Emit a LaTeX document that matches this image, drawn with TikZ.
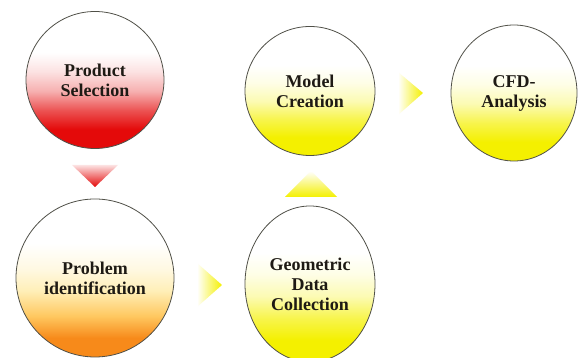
\documentclass[tikz,border=0pt]{standalone}
\usepackage{fontspec}
\setmainfont{Liberation Serif}
\usetikzlibrary{shapes.geometric}
\definecolor{txt}{HTML}{1E1A14}
\definecolor{rim}{HTML}{505048}
\definecolor{myred}{HTML}{E40A0A}
\definecolor{myorange}{HTML}{F78A1A}
\definecolor{midorange}{HTML}{FFC860}
\definecolor{paleorange}{HTML}{FFEFB8}
\definecolor{myyellow}{HTML}{F4F000}
\pgfdeclareverticalshading{redball}{100bp}{color(0bp)=(myred); color(25bp)=(myred); color(32bp)=(myred); color(39bp)=(myred!70!white); color(46bp)=(myred!32!white); color(53bp)=(myred!12!white); color(60bp)=(white); color(100bp)=(white)}
\pgfdeclareverticalshading{orangeball}{100bp}{color(0bp)=(myorange); color(25bp)=(myorange); color(31bp)=(myorange); color(38bp)=(midorange); color(46bp)=(paleorange); color(53bp)=(paleorange!40!white); color(61bp)=(white); color(100bp)=(white)}
\pgfdeclareverticalshading{yellowball}{100bp}{color(0bp)=(myyellow); color(25bp)=(myyellow); color(32bp)=(myyellow); color(39bp)=(myyellow!70!white); color(46bp)=(myyellow!30!white); color(53bp)=(myyellow!10!white); color(60bp)=(white); color(100bp)=(white)}
\tikzset{
  stage/.style={ellipse, draw=rim, line width=0.8pt, inner sep=0pt, align=center,
    font=\fontsize{18}{20}\selectfont\bfseries, text=txt},
  yelstage/.style={stage, shading=yellowball},
  arrowtri/.style={draw=none}
}
\begin{document}
\begin{tikzpicture}[x=1pt,y=1pt]
\useasboundingbox (0,0) rectangle (579,358);
\fill[white] (0,0) rectangle (579,358);
% circles
\node[stage, shading=redball, minimum width=138pt, minimum height=137pt] (prod) at (95,278) {Product\\Selection};
\node[stage, shading=orangeball, minimum width=158pt, minimum height=158pt] (prob) at (95,80) {Problem\\identification};
\node[yelstage, minimum width=130pt, minimum height=156pt] (geo) at (310,74) {Geometric\\Data\\Collection};
\node[yelstage, minimum width=130pt, minimum height=129pt] (model) at (310,267) {Model\\Creation};
\node[yelstage, minimum width=126pt, minimum height=136pt] (cfd) at (514,265) {CFD-\\Analysis};
% arrows (triangles)
\coordinate (a1) at (72,193);
\coordinate (a2) at (118,193);
\coordinate (a3) at (95,171);
\shade[arrowtri, top color=myred!12!white, bottom color=myred] (a1) -- (a2) -- (a3) -- cycle;
\coordinate (b1) at (197,95);
\coordinate (b2) at (197,51);
\coordinate (b3) at (222,73);
\shade[arrowtri, left color=white, right color=myyellow] (b1) -- (b2) -- (b3) -- cycle;
\coordinate (c1) at (285,161);
\coordinate (c2) at (337,161);
\coordinate (c3) at (311,187);
\shade[arrowtri, top color=white, bottom color=myyellow] (c1) -- (c2) -- (c3) -- cycle;
\coordinate (d1) at (398,286);
\coordinate (d2) at (398,243);
\coordinate (d3) at (423,265);
\shade[arrowtri, left color=white, right color=myyellow] (d1) -- (d2) -- (d3) -- cycle;
\end{tikzpicture}
\end{document}
